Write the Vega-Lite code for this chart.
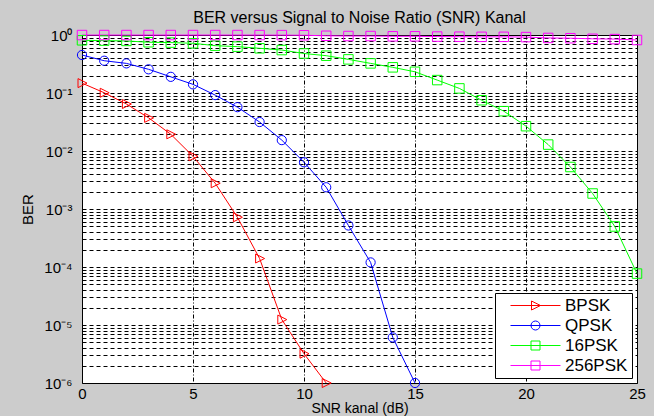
{
  "$schema": "https://vega.github.io/schema/vega-lite/v6.json",
  "width": 555,
  "height": 348,
  "autosize": {"type": "none"},
  "padding": {"left": 82, "top": 35, "right": 17, "bottom": 33},
  "background": "#cccccc",
  "title": {"text": "BER versus Signal to Noise Ratio (SNR) Kanal", "fontSize": 16, "font": "Liberation Sans", "fontWeight": "normal", "color": "black", "offset": 2, "anchor": "middle"},
  "config": {
    "view": {"fill": "white", "stroke": "black", "strokeWidth": 1},
    "axis": {
      "domain": false, "ticks": false, "tickSize": 0,
      "grid": true, "gridColor": "black", "gridDash": [4, 3], "gridWidth": 1, "gridOpacity": 1,
      "labelFont": "Liberation Sans", "labelFontSize": 15, "labelColor": "black",
      "titleFont": "Liberation Sans", "titleFontSize": 15, "titleFontWeight": "normal", "titleColor": "black",
      "labelOverlap": false, "labelFlush": false
    },
    "legend": {
      "orient": "bottom-right", "offset": 5, "padding": 4,
      "fillColor": "white", "strokeColor": "black", "cornerRadius": 0,
      "symbolSize": 100, "symbolStrokeWidth": 1, "symbolOffset": 28, "labelOffset": 21, "rowPadding": 2,
      "labelFont": "Liberation Sans", "labelFontSize": 17, "labelColor": "black"
    }
  },
  "data": {"values": [
    {"snr": 0, "ber": 0.148, "mod": "BPSK"},
    {"snr": 1, "ber": 0.101, "mod": "BPSK"},
    {"snr": 2, "ber": 0.0646, "mod": "BPSK"},
    {"snr": 3, "ber": 0.0373, "mod": "BPSK"},
    {"snr": 4, "ber": 0.0194, "mod": "BPSK"},
    {"snr": 5, "ber": 0.0081, "mod": "BPSK"},
    {"snr": 6, "ber": 0.00278, "mod": "BPSK"},
    {"snr": 7, "ber": 0.00072, "mod": "BPSK"},
    {"snr": 8, "ber": 0.00014, "mod": "BPSK"},
    {"snr": 9, "ber": 0.0000124, "mod": "BPSK"},
    {"snr": 10, "ber": 0.0000032, "mod": "BPSK"},
    {"snr": 11, "ber": 0.000001, "mod": "BPSK"},
    {"snr": 0, "ber": 0.452, "mod": "QPSK"},
    {"snr": 1, "ber": 0.36, "mod": "QPSK"},
    {"snr": 2, "ber": 0.324, "mod": "QPSK"},
    {"snr": 3, "ber": 0.256, "mod": "QPSK"},
    {"snr": 4, "ber": 0.19, "mod": "QPSK"},
    {"snr": 5, "ber": 0.141, "mod": "QPSK"},
    {"snr": 6, "ber": 0.092, "mod": "QPSK"},
    {"snr": 7, "ber": 0.057, "mod": "QPSK"},
    {"snr": 8, "ber": 0.0316, "mod": "QPSK"},
    {"snr": 9, "ber": 0.0154, "mod": "QPSK"},
    {"snr": 10, "ber": 0.0064, "mod": "QPSK"},
    {"snr": 11, "ber": 0.00237, "mod": "QPSK"},
    {"snr": 12, "ber": 0.00052, "mod": "QPSK"},
    {"snr": 13, "ber": 0.00012, "mod": "QPSK"},
    {"snr": 14, "ber": 0.0000061, "mod": "QPSK"},
    {"snr": 15, "ber": 0.000001, "mod": "QPSK"},
    {"snr": 0, "ber": 0.81, "mod": "16PSK"},
    {"snr": 1, "ber": 0.8, "mod": "16PSK"},
    {"snr": 2, "ber": 0.79, "mod": "16PSK"},
    {"snr": 3, "ber": 0.75, "mod": "16PSK"},
    {"snr": 4, "ber": 0.74, "mod": "16PSK"},
    {"snr": 5, "ber": 0.72, "mod": "16PSK"},
    {"snr": 6, "ber": 0.655, "mod": "16PSK"},
    {"snr": 7, "ber": 0.63, "mod": "16PSK"},
    {"snr": 8, "ber": 0.59, "mod": "16PSK"},
    {"snr": 9, "ber": 0.55, "mod": "16PSK"},
    {"snr": 10, "ber": 0.48, "mod": "16PSK"},
    {"snr": 11, "ber": 0.44, "mod": "16PSK"},
    {"snr": 12, "ber": 0.38, "mod": "16PSK"},
    {"snr": 13, "ber": 0.324, "mod": "16PSK"},
    {"snr": 14, "ber": 0.277, "mod": "16PSK"},
    {"snr": 15, "ber": 0.232, "mod": "16PSK"},
    {"snr": 16, "ber": 0.167, "mod": "16PSK"},
    {"snr": 17, "ber": 0.12, "mod": "16PSK"},
    {"snr": 18, "ber": 0.075, "mod": "16PSK"},
    {"snr": 19, "ber": 0.0486, "mod": "16PSK"},
    {"snr": 20, "ber": 0.0268, "mod": "16PSK"},
    {"snr": 21, "ber": 0.0129, "mod": "16PSK"},
    {"snr": 22, "ber": 0.0053, "mod": "16PSK"},
    {"snr": 23, "ber": 0.00185, "mod": "16PSK"},
    {"snr": 24, "ber": 0.0005, "mod": "16PSK"},
    {"snr": 25, "ber": 0.000077, "mod": "16PSK"},
    {"snr": 0, "ber": 0.998, "mod": "256PSK"},
    {"snr": 1, "ber": 0.998, "mod": "256PSK"},
    {"snr": 2, "ber": 0.998, "mod": "256PSK"},
    {"snr": 3, "ber": 0.998, "mod": "256PSK"},
    {"snr": 4, "ber": 0.998, "mod": "256PSK"},
    {"snr": 5, "ber": 0.998, "mod": "256PSK"},
    {"snr": 6, "ber": 0.998, "mod": "256PSK"},
    {"snr": 7, "ber": 0.998, "mod": "256PSK"},
    {"snr": 8, "ber": 0.997, "mod": "256PSK"},
    {"snr": 9, "ber": 0.995, "mod": "256PSK"},
    {"snr": 10, "ber": 0.99, "mod": "256PSK"},
    {"snr": 11, "ber": 0.97, "mod": "256PSK"},
    {"snr": 12, "ber": 0.96, "mod": "256PSK"},
    {"snr": 13, "ber": 0.96, "mod": "256PSK"},
    {"snr": 14, "ber": 0.95, "mod": "256PSK"},
    {"snr": 15, "ber": 0.95, "mod": "256PSK"},
    {"snr": 16, "ber": 0.94, "mod": "256PSK"},
    {"snr": 17, "ber": 0.935, "mod": "256PSK"},
    {"snr": 18, "ber": 0.93, "mod": "256PSK"},
    {"snr": 19, "ber": 0.93, "mod": "256PSK"},
    {"snr": 20, "ber": 0.92, "mod": "256PSK"},
    {"snr": 21, "ber": 0.89, "mod": "256PSK"},
    {"snr": 22, "ber": 0.88, "mod": "256PSK"},
    {"snr": 23, "ber": 0.86, "mod": "256PSK"},
    {"snr": 24, "ber": 0.85, "mod": "256PSK"},
    {"snr": 25, "ber": 0.82, "mod": "256PSK"}
  ]},
  "encoding": {
    "x": {
      "field": "snr", "type": "quantitative",
      "scale": {"domain": [0, 25], "nice": false, "zero": false},
      "axis": {"values": [0, 5, 10, 15, 20, 25], "title": "SNR kanal (dB)", "labelPadding": 3, "titlePadding": 0, "titleFontSize": 14, "gridDash": [4, 2, 1, 2]}
    },
    "y": {
      "field": "ber", "type": "quantitative",
      "scale": {"type": "log", "domain": [0.000001, 1], "nice": false},
      "axis": {
        "values": [1e-6, 2e-6, 3e-6, 4e-6, 5e-6, 6e-6, 7e-6, 8e-6, 9e-6,
                   1e-5, 2e-5, 3e-5, 4e-5, 5e-5, 6e-5, 7e-5, 8e-5, 9e-5,
                   1e-4, 2e-4, 3e-4, 4e-4, 5e-4, 6e-4, 7e-4, 8e-4, 9e-4,
                   1e-3, 2e-3, 3e-3, 4e-3, 5e-3, 6e-3, 7e-3, 8e-3, 9e-3,
                   1e-2, 2e-2, 3e-2, 4e-2, 5e-2, 6e-2, 7e-2, 8e-2, 9e-2,
                   0.1, 0.2, 0.3, 0.4, 0.5, 0.6, 0.7, 0.8, 0.9, 1],
        "labelExpr": "abs(log(datum.value)/LN10 - round(log(datum.value)/LN10)) < 0.001 ? '10' + (round(log(datum.value)/LN10) < 0 ? '⁻' : '') + ['⁰','¹','²','³','⁴','⁵','⁶'][abs(round(log(datum.value)/LN10))] : ''",
        "title": "BER", "labelPadding": 10, "titlePadding": 8
      }
    },
    "color": {"field": "mod", "type": "nominal", "sort": null, "legend": {"title": null},
      "scale": {"domain": ["BPSK", "QPSK", "16PSK", "256PSK"], "range": ["#ff0000", "#0000ff", "#00ff00", "#ff00ff"]}}
  },
  "layer": [
    {
      "mark": {"type": "line", "strokeWidth": 1}
    },
    {
      "transform": [{"filter": "datum.mod === 'BPSK'"}],
      "mark": {"type": "point", "filled": false, "size": 100, "strokeWidth": 1, "opacity": 1, "shape": "M-0.8,-0.9L1,0L-0.8,0.9Z"}
    },
    {
      "transform": [{"filter": "datum.mod === 'QPSK'"}],
      "mark": {"type": "point", "filled": false, "size": 85, "strokeWidth": 1, "opacity": 1, "shape": "circle"}
    },
    {
      "transform": [{"filter": "datum.mod === '16PSK' || datum.mod === '256PSK'"}],
      "mark": {"type": "point", "filled": false, "size": 90, "strokeWidth": 1, "opacity": 1, "shape": "square"}
    },
    {
      "transform": [{"filter": "false"}],
      "mark": {"type": "point", "filled": false, "strokeWidth": 1, "opacity": 1},
      "encoding": {
        "shape": {"field": "mod", "type": "nominal", "sort": null, "legend": {"title": null},
          "scale": {"domain": ["BPSK", "QPSK", "16PSK", "256PSK"], "range": [
            "M-5,0L5,0M-0.8,-0.9L1,0L-0.8,0.9Z",
            "M-5,0L5,0M0.9,0C0.9,0.497,0.497,0.9,0,0.9C-0.497,0.9,-0.9,0.497,-0.9,0C-0.9,-0.497,-0.497,-0.9,0,-0.9C0.497,-0.9,0.9,-0.497,0.9,0Z",
            "M-5,0L5,0M-0.9,-0.9L0.9,-0.9L0.9,0.9L-0.9,0.9Z",
            "M-5,0L5,0M-0.9,-0.9L0.9,-0.9L0.9,0.9L-0.9,0.9Z"
          ]}}
      }
    }
  ]
}
